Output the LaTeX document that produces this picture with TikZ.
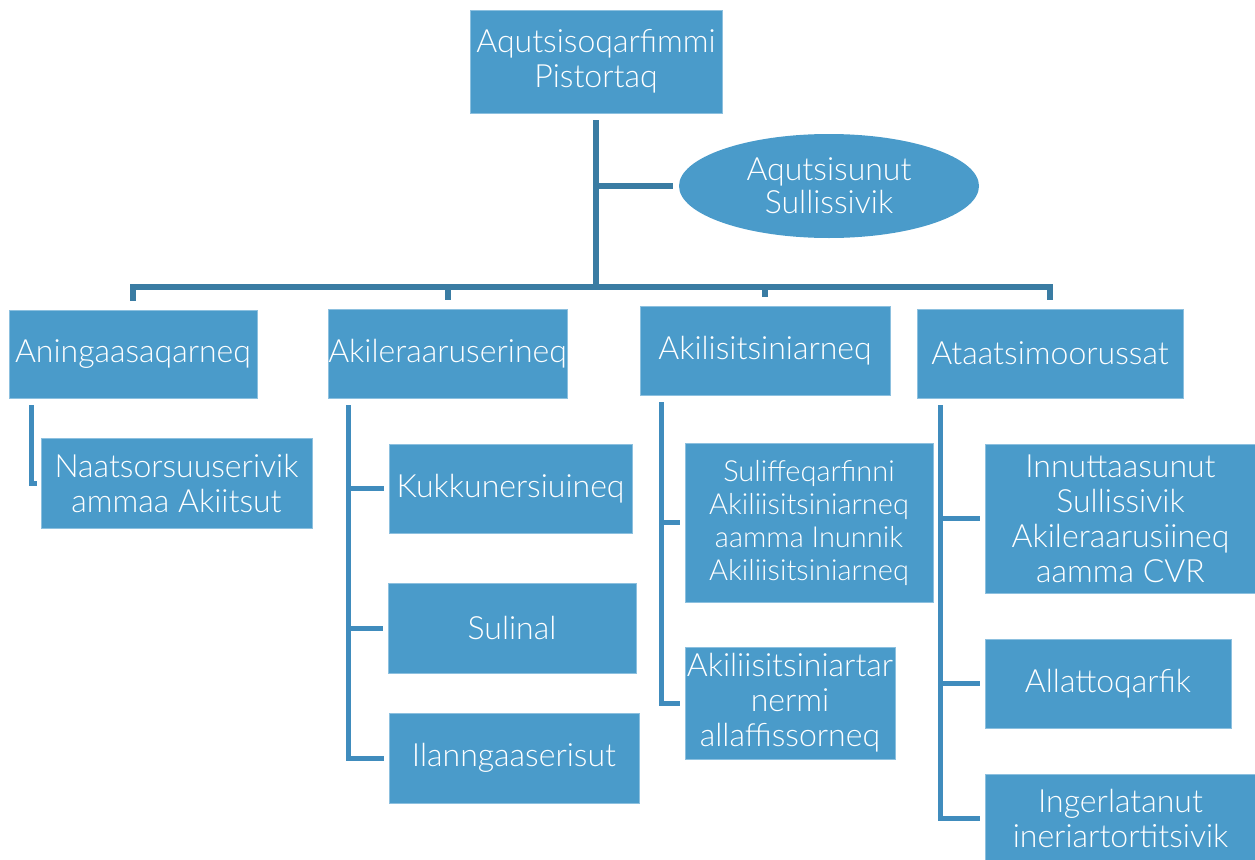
\documentclass[tikz,border=0pt]{standalone}
\usepackage{fontspec}
\setmainfont{Lato}[UprightFont={* Light}]
\usetikzlibrary{shapes.geometric}
\definecolor{boxblue}{HTML}{4A9BCA}
\definecolor{boxedge}{HTML}{8CC0DF}
\definecolor{trunkcol}{HTML}{3A7CA3}
\definecolor{twigcol}{HTML}{408CBD}
\begin{document}
\begin{tikzpicture}[x=1pt,y=-1pt,
  box/.style={draw=boxedge, line width=0.8pt, fill=boxblue, text=white, align=center, inner sep=0pt, font=\fontsize{32}{35}\selectfont},
  smallbox/.style={box, font=\fontsize{29}{33}\selectfont},
  oval/.style={ellipse, draw=none, fill=boxblue, text=white, align=center, inner sep=0pt, font=\fontsize{32}{33}\selectfont},
  trunkline/.style={draw=trunkcol, line width=6pt},
  twigline/.style={draw=twigcol, line width=5pt}]
\useasboundingbox (0,0) rectangle (1255,859);

% top
\node[box, minimum width=252pt, minimum height=103pt] (top) at (596,61.5) {Aqutsisoqarfimmi\\Pistortaq};
\node[oval, minimum width=300pt, minimum height=104pt] (ell) at (829,186) {Aqutsisunut\\Sullissivik};

% level 2
\node[box, minimum width=248pt, minimum height=88pt] (a1) at (133,354) {Aningaasaqarneq};
\node[box, minimum width=239pt, minimum height=89pt] (a2) at (447.5,353.5) {Akileraaruserineq};
\node[box, minimum width=250pt, minimum height=89pt] (a3) at (765,350.5) {Akilisitsiniarneq};
\node[box, minimum width=266pt, minimum height=89pt] (a4) at (1050,353.5) {Ataatsimoorussat};

% level 3
\node[box, minimum width=271pt, minimum height=90pt] (b1) at (176.5,483) {Naatsorsuuserivik\\ammaa Akiitsut};
\node[box, minimum width=243pt, minimum height=89pt] (k) at (510.5,488.5) {Kukkunersiuineq};
\node[box, minimum width=248pt, minimum height=90pt] (s) at (512,628) {Sulinal};
\node[box, minimum width=250pt, minimum height=90pt] (il) at (514,758) {Ilanngaaserisut};
\node[smallbox, minimum width=248pt, minimum height=159pt] (su) at (809,522.5) {Suliffeqarfinni\\Akiliisitsiniarneq\\aamma Inunnik\\Akiliisitsiniarneq};
\node[box, minimum width=210pt, minimum height=112pt] (ak) at (790,703) {Akiliisitsiniartar\\nermi\\allaffissorneq};
\node[box, minimum width=271pt, minimum height=149pt] (in) at (1120.5,518.5) {Innuttaasunut\\Sullissivik\\Akileraarusiineq\\aamma CVR};
\node[box, minimum width=246pt, minimum height=89pt] (al) at (1108,683.5) {Allattoqarfik};
\node[box, minimum width=271pt, minimum height=88pt] (ig) at (1120.5,818) {Ingerlatanut\\ineriartortitsivik};

% trunk and bus
\coordinate (bus) at (596,287);
\draw[trunkline, shorten <=7pt] (top.south) -- (bus);
\draw[trunkline, shorten >=6pt] (top.south |- ell.west) -- (ell.west);
\foreach \n in {a1,a2,a3,a4}
  \draw[trunkline, shorten >=9pt] (bus) -| (\n.north);

% twigs
\draw[twigline, shorten <=7pt, shorten >=4pt] ([xshift=23pt]a1.south west) |- (b1.west);
\foreach \n in {k,s,il}
  \draw[twigline, shorten <=7pt, shorten >=5pt] ([xshift=21pt]a2.south west) |- (\n.west);
\foreach \n in {su,ak}
  \draw[twigline, shorten <=7pt, shorten >=5pt] ([xshift=22pt]a3.south west) |- (\n.west);
\foreach \n in {in,al,ig}
  \draw[twigline, shorten <=7pt, shorten >=5pt] ([xshift=24pt]a4.south west) |- (\n.west);
\end{tikzpicture}
\end{document}
